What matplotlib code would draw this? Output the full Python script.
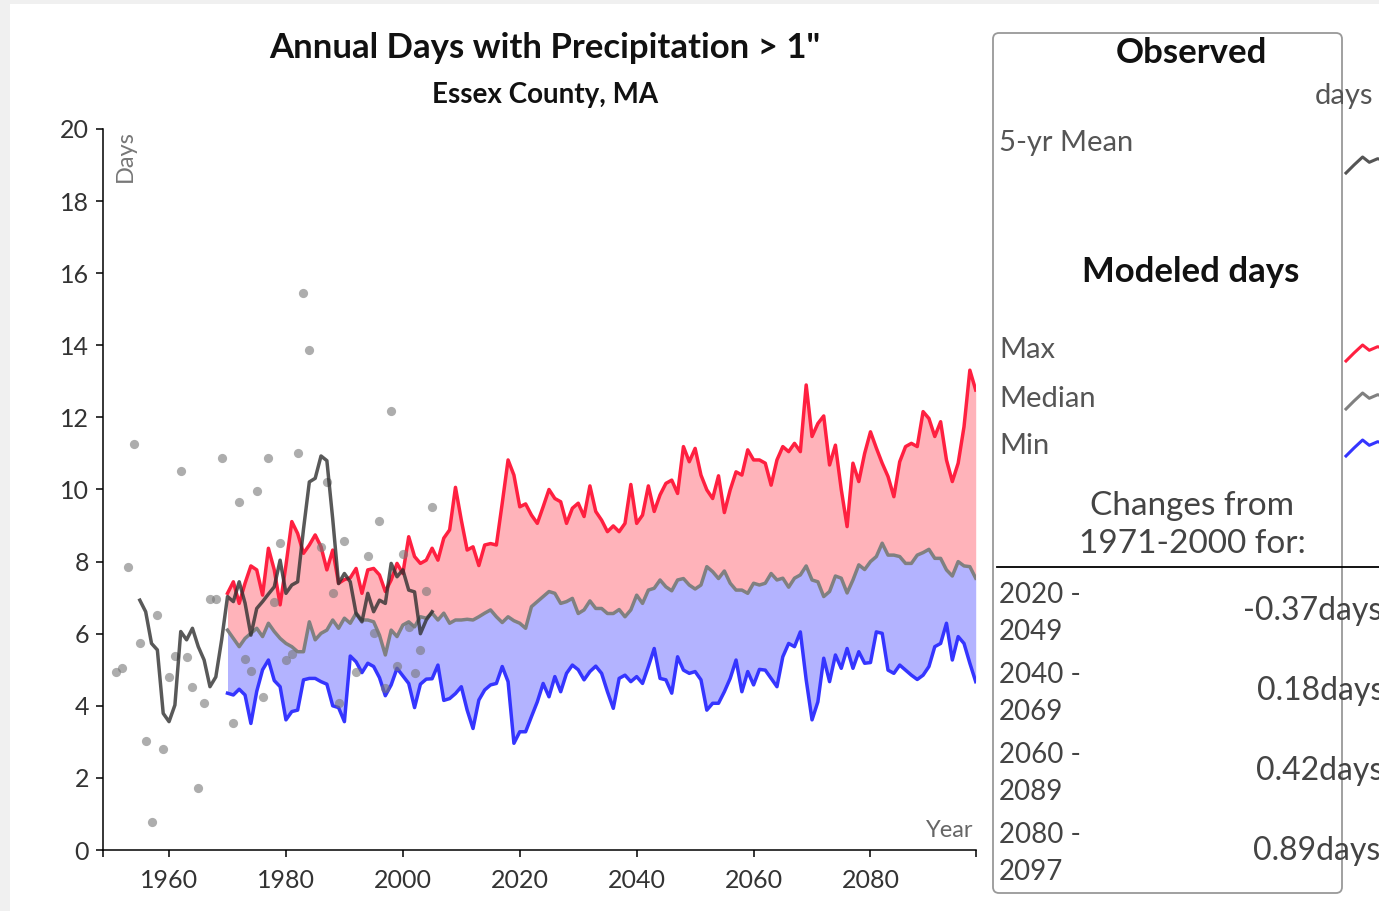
import numpy as np
import matplotlib.pyplot as plt
from matplotlib.lines import Line2D
from matplotlib.patches import FancyBboxPatch, Rectangle

plt.rcParams['font.family'] = ['Lato', 'DejaVu Sans']

# observed annual values (dots)
obs_years = [1951, 1952, 1953, 1954, 1955, 1956, 1957, 1958, 1959, 1960,
             1961, 1962, 1963, 1964, 1965, 1966, 1967, 1968, 1969, 1971,
             1972, 1973, 1974, 1975, 1976, 1977, 1978, 1979, 1980, 1981,
             1982, 1983, 1984, 1986, 1987, 1988, 1989, 1990, 1992, 1994,
             1995, 1996, 1997, 1998, 1999, 2000, 2001, 2002, 2003, 2004, 2005]
obs_days = [4.94, 5.05, 7.86, 11.25, 5.75, 3.03, 0.79, 6.52, 2.80, 4.80,
            5.39, 10.52, 5.36, 4.53, 1.73, 4.07, 6.95, 6.95, 10.88, 3.53,
            9.66, 5.30, 4.97, 9.96, 4.25, 10.88, 6.89, 8.52, 5.27, 5.45,
            11.00, 15.46, 13.86, 8.41, 10.21, 7.13, 4.07, 8.57, 4.94, 8.16,
            6.03, 9.13, 4.50, 12.19, 5.11, 8.21, 6.19, 4.92, 5.55, 7.19, 9.52]

# observed 5-yr mean
mean_years = list(range(1955, 2006))
mean_days = [6.93, 6.61, 5.73, 5.55, 3.79, 3.56, 4.02, 6.06, 5.83, 6.15,
             5.64, 5.27, 4.53, 4.80, 5.83, 7.03, 6.89, 7.44, 6.85, 5.96,
             6.70, 6.89, 7.10, 7.30, 8.04, 7.12, 7.35, 7.44, 8.90, 10.21,
             10.31, 10.93, 10.80, 9.18, 7.39, 7.67, 7.44, 6.56, 6.33, 7.12,
             6.61, 6.93, 6.84, 7.95, 7.58, 7.77, 7.21, 7.16, 6.00, 6.38,
             6.61]

# modeled range
model_years = list(range(1970, 2099))
model_max = [7.12, 7.44, 6.84, 7.40, 7.88, 7.77, 7.07, 8.37, 7.77, 6.80,
             7.90, 9.11, 8.78, 8.23, 8.46, 8.74, 8.41, 7.77, 8.32, 7.40,
             7.50, 7.55, 7.81, 7.12, 7.77, 7.81, 7.63, 7.17, 7.49, 7.95,
             7.67, 8.69, 8.14, 7.95, 8.04, 8.37, 8.04, 8.65, 8.88, 10.06,
             9.15, 8.32, 8.41, 7.89, 8.46, 8.50, 8.46, 9.62, 10.82, 10.40,
             9.52, 9.60, 9.29, 9.06, 9.52, 10.00, 9.75, 9.66, 9.06, 9.48,
             9.62, 9.25, 10.10, 9.39, 9.15, 8.83, 8.99, 8.83, 9.06, 10.14,
             9.06, 9.29, 10.10, 9.39, 9.85, 10.17, 10.26, 9.89, 11.19, 10.77,
             11.14, 10.40, 9.99, 9.75, 10.38, 9.36, 9.99, 10.49, 10.40, 11.10,
             10.82, 10.82, 10.73, 10.12, 10.82, 11.19, 11.05, 11.28, 11.05, 12.90,
             11.47, 11.83, 12.04, 10.68, 11.23, 10.00, 8.97, 10.73, 10.22, 11.00,
             11.60, 11.15, 10.73, 10.36, 9.80, 10.77, 11.19, 11.28, 11.19, 12.16,
             11.97, 11.47, 11.88, 10.82, 10.22, 10.73, 11.74, 13.31, 12.76]
model_median = [6.10, 5.87, 5.64, 5.87, 6.01, 6.15, 5.92, 6.29, 6.06, 5.87,
                5.73, 5.64, 5.50, 5.50, 6.33, 5.83, 6.01, 6.10, 6.38, 6.15,
                6.43, 6.29, 6.57, 6.38, 6.38, 6.33, 5.96, 5.41, 6.10, 5.92,
                6.24, 6.33, 6.19, 6.47, 6.43, 6.57, 6.38, 6.57, 6.29, 6.38,
                6.38, 6.40, 6.38, 6.47, 6.57, 6.66, 6.47, 6.31, 6.47, 6.36,
                6.29, 6.15, 6.75, 6.89, 7.03, 7.17, 7.12, 6.84, 6.89, 6.98,
                6.56, 6.66, 6.91, 6.70, 6.70, 6.56, 6.56, 6.67, 6.47, 6.66,
                7.07, 6.84, 7.21, 7.26, 7.49, 7.30, 7.19, 7.49, 7.53, 7.35,
                7.24, 7.35, 7.86, 7.72, 7.53, 7.74, 7.40, 7.21, 7.21, 7.12,
                7.40, 7.35, 7.40, 7.67, 7.49, 7.54, 7.29, 7.54, 7.63, 7.88,
                7.49, 7.44, 7.03, 7.17, 7.60, 7.54, 7.13, 7.49, 7.91, 7.78,
                8.00, 8.14, 8.51, 8.18, 8.18, 8.14, 7.95, 7.95, 8.18, 8.25,
                8.34, 8.09, 8.09, 7.77, 7.60, 8.00, 7.88, 7.86, 7.54]
model_min = [4.35, 4.30, 4.46, 4.30, 3.51, 4.40, 5.00, 5.27, 4.70, 4.53,
             3.61, 3.84, 3.88, 4.72, 4.76, 4.76, 4.67, 4.60, 4.00, 3.95,
             3.56, 5.38, 5.22, 4.92, 5.18, 5.09, 4.78, 4.28, 4.58, 5.04,
             4.83, 4.62, 3.95, 4.60, 4.74, 4.75, 5.13, 4.15, 4.20, 4.34,
             4.53, 3.88, 3.37, 4.16, 4.44, 4.58, 4.62, 5.09, 4.67, 2.96,
             3.28, 3.28, 3.70, 4.11, 4.62, 4.25, 4.81, 4.39, 4.90, 5.13,
             5.00, 4.72, 4.95, 5.10, 4.90, 4.39, 3.93, 4.76, 4.85, 4.67,
             4.81, 4.62, 5.09, 5.59, 4.76, 4.72, 4.35, 5.36, 4.99, 4.90,
             4.95, 4.72, 3.88, 4.07, 4.07, 4.39, 4.76, 5.27, 4.39, 4.95,
             4.58, 5.01, 4.99, 4.76, 4.53, 5.36, 5.73, 5.64, 6.05, 4.72,
             3.61, 4.11, 5.32, 4.67, 5.41, 5.04, 5.59, 5.04, 5.50, 5.18,
             5.20, 6.05, 6.01, 4.99, 4.90, 5.13, 4.99, 4.85, 4.73, 4.85,
             5.09, 5.64, 5.73, 6.29, 5.27, 5.92, 5.73, 5.18, 4.67]

x_ticks = [1960, 1980, 2000, 2020, 2040, 2060, 2080]
y_ticks = list(range(0, 21, 2))

change_periods = [("2020 -", "2049"), ("2040 -", "2069"),
                  ("2060 -", "2089"), ("2080 -", "2097")]
change_values = ["-0.37days", "0.18days", "0.42days", "0.89days"]

# little zigzag used as legend swatch (pixel offsets)
icon_dx = [0, 8, 16.6, 23.3, 31.6, 40]
icon_dy = [0, -8, -16, -10.7, -14.3, -12]

W, H = 1379, 911
RED = '#ff2040'
BLUE = '#3535ff'
GRAY = '#808080'


def fx(x):
    return x / W


def fy(y):
    return 1 - y / H


fig = plt.figure(figsize=(W / 100, H / 100), dpi=100, facecolor='#f0f0f0')
fig.patches.append(Rectangle((fx(10), 0), 1 - fx(10), fy(4), transform=fig.transFigure,
                             facecolor='white', edgecolor='none', zorder=-5))

ax = fig.add_axes([fx(103), fy(850), fx(975.7) - fx(103), fy(129) - fy(850)])
ax.set_facecolor('white')

ax.fill_between(model_years, model_median, model_max, color='#ffb3ba', lw=0, zorder=1)
ax.fill_between(model_years, model_min, model_median, color='#b3b3ff', lw=0, zorder=1)
ax.plot(model_years, model_max, color=RED, lw=2.5, zorder=2)
ax.plot(model_years, model_median, color=GRAY, lw=2.5, zorder=2)
ax.plot(model_years, model_min, color=BLUE, lw=2.5, zorder=2)
ax.scatter(obs_years, obs_days, s=44, color='#777777', alpha=0.6, lw=0, zorder=3)
ax.plot(mean_years, mean_days, color='#303030', alpha=0.8, lw=2.5, zorder=4)

ax.set_xlim(1948.7, 2098)
ax.set_ylim(0, 20)
ax.set_xticks(x_ticks)
ax.set_yticks(y_ticks)
ax.set_xticks([1948.7, 2098], minor=True)
ax.tick_params(axis='both', which='both', direction='out', length=5, width=1.1,
               color='black', labelcolor='#333333', labelsize=18)
ax.tick_params(axis='x', pad=9)
ax.tick_params(axis='y', pad=5)
for s in ['top', 'right']:
    ax.spines[s].set_visible(False)
for s in ['left', 'bottom']:
    ax.spines[s].set_linewidth(1.1)
    ax.spines[s].set_color('black')

ax.text(0.026, 0.999, 'Days', transform=ax.transAxes, rotation=90,
        ha='center', va='top', fontsize=17, color='#777777')
ax.text(0.997, 0.012, 'Year', transform=ax.transAxes, ha='right', va='bottom',
        fontsize=17, color='#666666')

# titles
fig.text(fx(545), fy(48), 'Annual Days with Precipitation > 1"', ha='center', va='center',
         fontsize=25, fontweight='bold', color='#111111')
fig.text(fx(545), fy(95), 'Essex County, MA', ha='center', va='center',
         fontsize=20, fontweight='bold', color='#111111')

# legend panel
box = FancyBboxPatch((993 / 100, (H - 893) / 100), (1342 - 993) / 100, (893 - 33) / 100,
                     boxstyle='round,pad=0,rounding_size=0.06',
                     transform=fig.dpi_scale_trans, facecolor='none',
                     edgecolor='#999999', lw=1.3)
fig.patches.append(box)

fig.text(fx(1191), fy(53), 'Observed', ha='center', va='center', fontsize=25,
         fontweight='bold', color='#111111')
fig.text(fx(1315), fy(96), 'days', ha='left', va='center', fontsize=21, color='#555555')
fig.text(fx(999), fy(143), '5-yr Mean', ha='left', va='center', fontsize=21, color='#555555')
fig.text(fx(1191), fy(272), 'Modeled days', ha='center', va='center', fontsize=25,
         fontweight='bold', color='#111111')

legend_rows = [('Max', 350, RED), ('Median', 399, GRAY), ('Min', 446, BLUE)]
for label, yy, col in legend_rows:
    fig.text(fx(999), fy(yy), label, ha='left', va='center', fontsize=21, color='#555555')

icon_rows = [(173, '#555555'), (361, RED), (409, GRAY), (456, BLUE)]
for base, col in icon_rows:
    xs = [fx(1346 + d) for d in icon_dx]
    ys = [fy(base + d) for d in icon_dy]
    fig.add_artist(Line2D(xs, ys, transform=fig.transFigure, color=col, lw=2.2))

fig.text(fx(1192), fy(506), 'Changes from', ha='center', va='center', fontsize=24,
         color='#444444')
fig.text(fx(1192), fy(544), '1971-2000 for:', ha='center', va='center', fontsize=24,
         color='#444444')
fig.add_artist(Line2D([fx(997), fx(1379)], [fy(567), fy(567)], transform=fig.transFigure,
                      color='black', lw=1.3))

row_y = [595, 675, 755, 835]
val_x = [1243, 1257, 1256, 1253]
for (p1, p2), val, yy, vx in zip(change_periods, change_values, row_y, val_x):
    fig.text(fx(999), fy(yy), p1, ha='left', va='center', fontsize=20, color='#444444')
    fig.text(fx(999), fy(yy + 37), p2, ha='left', va='center', fontsize=20, color='#444444')
    fig.text(fx(vx), fy(yy + 16), val, ha='left', va='center', fontsize=23, color='#444444')

fig.savefig('out.png', dpi=100, facecolor=fig.get_facecolor())
